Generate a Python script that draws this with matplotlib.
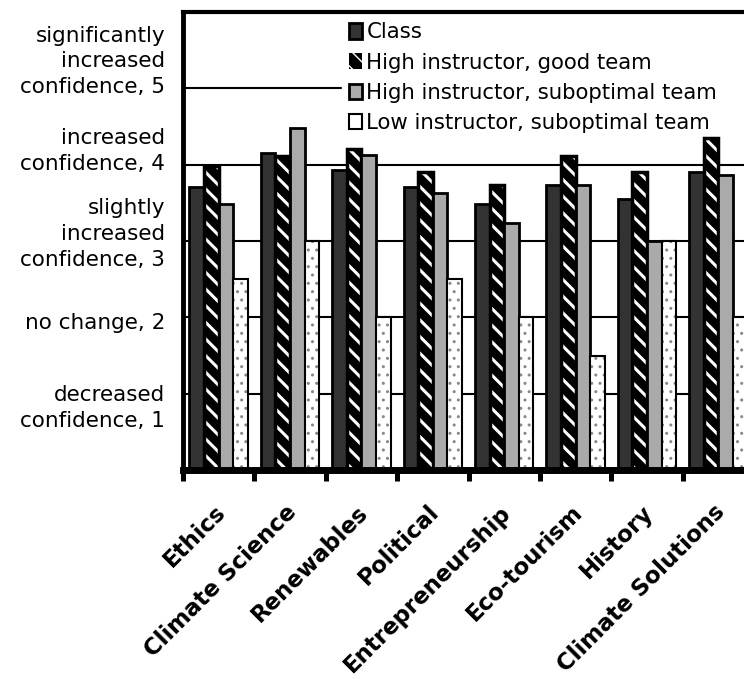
import matplotlib.pyplot as plt
import numpy as np
from matplotlib.transforms import ScaledTranslation

# Topics and mean confidence ratings per group
categories = ['Ethics', 'Climate Science', 'Renewables', 'Political',
              'Entrepreneurship', 'Eco-tourism', 'History', 'Climate Solutions']
class_vals = [3.71, 4.15, 3.93, 3.71, 3.48, 3.74, 3.55, 3.91]
high_good = [3.98, 4.12, 4.21, 3.91, 3.74, 4.11, 3.91, 4.35]
high_sub = [3.48, 4.48, 4.13, 3.63, 3.24, 3.74, 3.00, 3.87]
low_sub = [2.50, 3.00, 2.00, 2.50, 2.00, 1.50, 3.00, 2.00]

series_names = ['Class', 'High instructor, good team',
                'High instructor, suboptimal team', 'Low instructor, suboptimal team']

y_ticks = [1, 2, 3, 4, 5]
y_labels = ['decreased\nconfidence, 1', 'no change, 2',
            'slightly\nincreased\nconfidence, 3', 'increased\nconfidence, 4',
            'significantly\nincreased\nconfidence, 5']

plt.rcParams['font.family'] = 'DejaVu Sans'
plt.rcParams['hatch.linewidth'] = 2.2

fig = plt.figure(figsize=(7.44, 6.79), dpi=100)
# axes run past the right edge of the figure, like the cropped original
ax = fig.add_axes([183 / 744, 1 - 470 / 679, 571 / 744, 458 / 679])

x = np.arange(len(categories))
w = 0.205

ax.bar(x - 1.5 * w, class_vals, w, color='#333333', edgecolor='black',
       linewidth=2, label=series_names[0], zorder=2)
ax.bar(x - 0.5 * w, high_good, w, color='black', edgecolor='white',
       hatch='\\\\', linewidth=0, label=series_names[1], zorder=2)
ax.bar(x - 0.5 * w, high_good, w, fill=False, edgecolor='black',
       linewidth=2.5, zorder=2)
ax.bar(x + 0.5 * w, high_sub, w, color='#aaaaaa', edgecolor='black',
       linewidth=2, label=series_names[2], zorder=2)
# dotted white bars: light grey dots, then the black outline
plt.rcParams['hatch.linewidth'] = 1.0
ax.bar(x + 1.5 * w, low_sub, w, color='white', edgecolor='#888888',
       hatch='..', linewidth=0, zorder=2)
ax.bar(x + 1.5 * w, low_sub, w, color='none', edgecolor='black',
       linewidth=1.5, label=series_names[3], zorder=2)

ax.set_xlim(-0.5, 7.5)
ax.set_ylim(0, 6)

# gridlines
ax.set_axisbelow(True)
ax.yaxis.grid(True, color='black', linewidth=1.5)

# spines
ax.spines['left'].set_linewidth(3.5)
ax.spines['bottom'].set_linewidth(5)
ax.spines['top'].set_linewidth(3)
ax.spines['right'].set_visible(False)

# x axis: labels at centres, tick marks between groups
ax.set_xticks(x)
ax.set_xticklabels(categories, rotation=45, ha='right', va='top',
                   rotation_mode='anchor', fontweight='bold', fontsize=16.5)
ax.set_xticks(np.arange(-0.5, 8, 1), minor=True)
ax.tick_params(axis='x', which='major', length=0, pad=22)
ax.tick_params(axis='x', which='minor', length=8, width=3.6, color='black')
for lbl in ax.get_xticklabels():
    lbl.set_transform(lbl.get_transform() + ScaledTranslation(-0.05, 0, fig.dpi_scale_trans))

# y axis labels, nudged like the original
ax.set_yticks(y_ticks)
ax.set_yticklabels(y_labels, fontsize=15.5, linespacing=1.35, ha='right',
                   va='center', multialignment='right')
ax.tick_params(axis='y', length=0, pad=13)
nudges = [-14.5, -6, 7, 13.5, 27]
for lbl, dy in zip(ax.get_yticklabels(), nudges):
    lbl.set_transform(lbl.get_transform() + ScaledTranslation(0, dy / 100, fig.dpi_scale_trans))

# legend sits over the gridlines but under the bars
leg = ax.legend(loc='upper left', bbox_to_anchor=(342 / 744, 1 - 15 / 679, 420 / 744, 0),
                bbox_transform=fig.transFigure, mode='expand', borderaxespad=0,
                borderpad=0.35, fancybox=False, edgecolor='white', framealpha=1,
                fontsize=15.3, handlelength=0.6, handleheight=0.75,
                handletextpad=0.2, labelspacing=0.48)
leg.set_zorder(1.5)

fig.savefig('out.png', dpi=100)
